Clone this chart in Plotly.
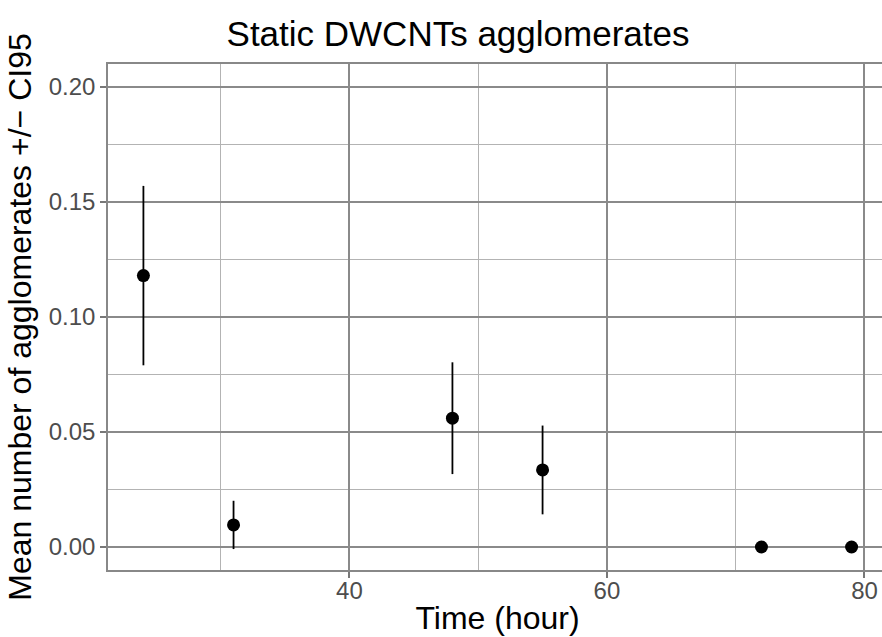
import plotly.graph_objects as go

time_hours = [24, 31, 48, 55, 72, 79]
mean_agglomerates = [0.118, 0.0096, 0.056, 0.0335, 0.0, 0.0]
ci95 = [0.039, 0.0105, 0.0243, 0.0193, 0.0, 0.0]

x_ticks = [40, 60, 80]
y_ticks = [0.00, 0.05, 0.10, 0.15, 0.20]

FONT = "Liberation Sans, Arial, Helvetica, sans-serif"

fig = go.Figure()
fig.add_trace(go.Scatter(
    x=time_hours, y=mean_agglomerates, mode="markers",
    marker=dict(color="black", size=13),
    error_y=dict(type="data", array=ci95, visible=True, color="black", thickness=1.8, width=0),
    showlegend=False,
))

axis_common = dict(
    showline=True, linecolor="#888888", linewidth=1.5,
    showgrid=True, gridcolor="#8a8a8a", gridwidth=1.5,
    ticks="outside", ticklen=6, tickcolor="#777777", tickwidth=1.5,
    tickfont=dict(family=FONT, size=24, color="#4d4d4d"),
    zeroline=False, automargin=False,
)

# the reference panel runs past the right edge of the 882px picture
W, H = 892, 637

fig.update_layout(
    width=W, height=H,
    margin=dict(l=108, r=5, t=64, b=67),
    paper_bgcolor="white", plot_bgcolor="white",
    title=dict(text="Static DWCNTs agglomerates", x=458 / W, xanchor="center",
               y=1 - 34 / H, yanchor="middle",
               font=dict(family=FONT, size=35, color="black")),
    xaxis=dict(range=[21.25, 81.75], tickvals=x_ticks, ticklabelstandoff=-8, mirror=True,
               title=dict(text="Time (hour)", font=dict(family=FONT, size=32, color="black"), standoff=4),
               minor=dict(dtick=10, tick0=0, showgrid=True, gridcolor="#b3b3b3", gridwidth=1.1),
               **axis_common),
    yaxis=dict(range=[-0.01, 0.21], tickvals=y_ticks, tickformat=".2f", mirror=True,
               title=dict(text="Mean number of agglomerates +/\u2212 CI95",
                          font=dict(family=FONT, size=32, color="black"), standoff=8),
               minor=dict(dtick=0.025, tick0=0, showgrid=True, gridcolor="#b3b3b3", gridwidth=1.1),
               **axis_common),
)

# remove the browser's default 8px page margin so the figure fills the window exactly
fig.write_html(
    "out.html",
    config={"displayModeBar": False},
    post_script="document.body.style.margin='0';document.body.style.overflow='hidden';",
)
